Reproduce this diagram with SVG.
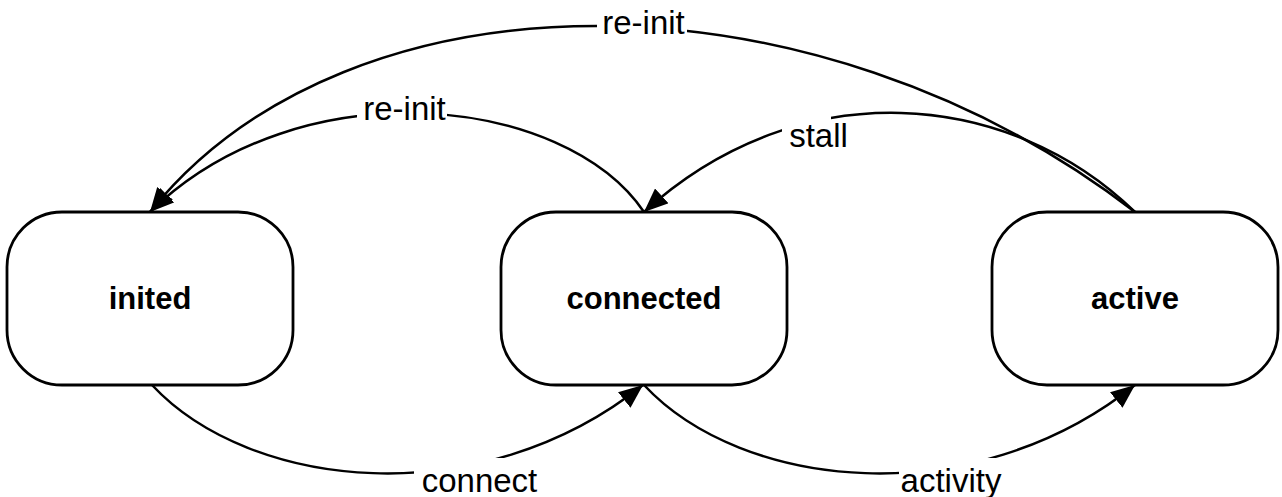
<svg xmlns="http://www.w3.org/2000/svg" width="1282" height="497" viewBox="0 0 1282 497">
<style>
.node{fill:#fff;stroke:#000;stroke-width:2.8}
.nl{font-family:"Liberation Sans",Arial,sans-serif;font-weight:bold;font-size:31px;text-anchor:middle;fill:#000}
.edge{fill:none;stroke:#000;stroke-width:2.5}
.bg{fill:#fff;stroke:none}
.el{font-family:"Liberation Sans",Arial,sans-serif;font-size:33px;text-anchor:middle;fill:#000}
</style>
<defs>
<marker id="arrow" markerUnits="userSpaceOnUse" viewBox="0 0 24 20" refX="24" refY="10" markerWidth="24" markerHeight="20" orient="auto">
<path d="M0,0 L24,10 L0,20 z" fill="#000"/>
</marker>
</defs>
<rect width="1282" height="497" fill="#fff"/>
<g id="connectors">
<g id="e-reinit-active">
<path class="edge" d="M1135,212 C815,-35 350,-37 150,212" marker-end="url(#arrow)"/>
<rect class="bg" x="597" y="6" width="90" height="36"/>
<text class="el" x="643.5" y="34">re-init</text>
</g>
<g id="e-reinit-connected">
<path class="edge" d="M644,212 C565,95 300,66 150,212" marker-end="url(#arrow)"/>
<rect class="bg" x="357" y="95" width="90" height="33"/>
<text class="el" x="404.5" y="120">re-init</text>
</g>
<g id="e-stall">
<path class="edge" d="M1135,212 C1010,90 800,70 644,212" marker-end="url(#arrow)"/>
<rect class="bg" x="782" y="106" width="49" height="44"/>
<text class="el" x="818.5" y="147">stall</text>
</g>
<g id="e-connect">
<path class="edge" d="M152,385 C250,490 480,515 643,385" marker-end="url(#arrow)"/>
<rect class="bg" x="414" y="458" width="95" height="39"/>
<text class="el" x="479.5" y="492">connect</text>
</g>
<g id="e-activity">
<path class="edge" d="M644,385 C742,490 972,515 1135,385" marker-end="url(#arrow)"/>
<rect class="bg" x="899" y="458" width="104" height="39"/>
<text class="el" x="951" y="492">activity</text>
</g>
</g>
<g id="inited">
<rect class="node" x="7" y="212" width="286" height="173" rx="55" ry="55"/>
<text class="nl" x="150" y="309">inited</text>
</g>
<g id="connected">
<rect class="node" x="501" y="212" width="286" height="173" rx="55" ry="55"/>
<text class="nl" x="644" y="309">connected</text>
</g>
<g id="active">
<rect class="node" x="992" y="212" width="286" height="173" rx="55" ry="55"/>
<text class="nl" x="1135" y="309">active</text>
</g>
</svg>
